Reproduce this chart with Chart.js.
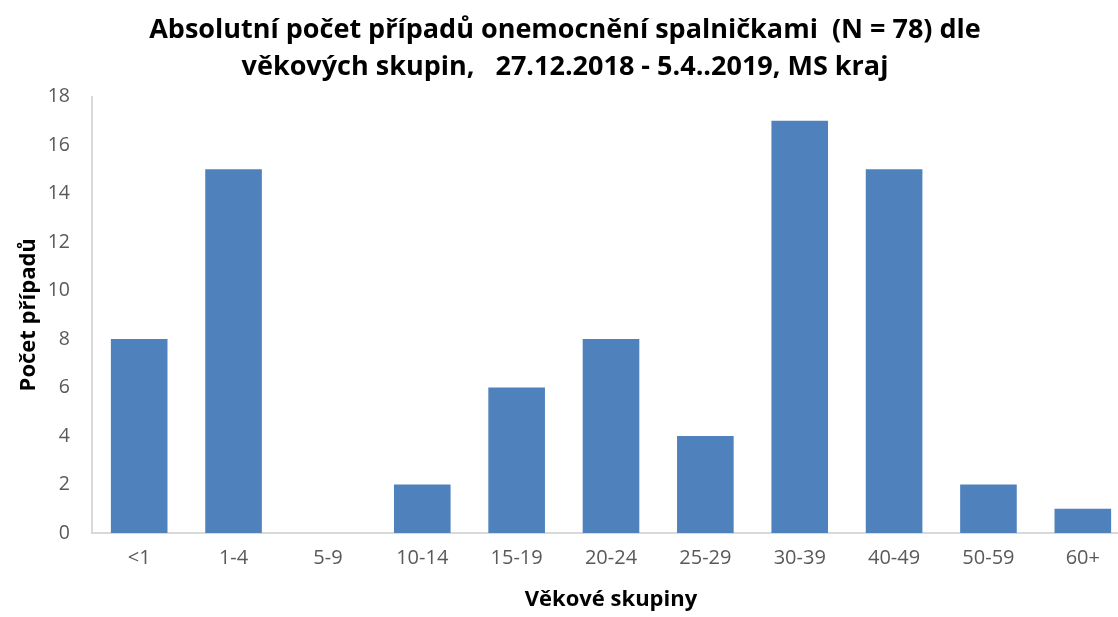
<!DOCTYPE html>
<html>
<head>
<meta charset="utf-8">
<script src="https://cdn.jsdelivr.net/npm/chart.js@4/dist/chart.umd.min.js"></script>
<style>
  html, body { margin: 0; padding: 0; background: #fff; overflow: hidden; }
  #wrap { width: 1130px; height: 617px; }
</style>
</head>
<body>
<div id="wrap"><canvas id="chart"></canvas></div>
<script>
const ageGroups = ['<1', '1-4', '5-9', '10-14', '15-19', '20-24', '25-29', '30-39', '40-49', '50-59', '60+'];
const caseCounts = [8, 15, 0, 2, 6, 8, 4, 17, 15, 2, 1];
const yTicks = [0, 2, 4, 6, 8, 10, 12, 14, 16, 18];
const titleLines = [
    'Absolutní počet případů onemocnění spalničkami  (N = 78) dle',
    'věkových skupin,   27.12.2018 - 5.4..2019, MS kraj'
];

const font = '"Open Sans", Lato, sans-serif';

const chart = new Chart(document.getElementById('chart'), {
    type: 'bar',
    data: {
        labels: ageGroups,
        datasets: [{
            label: 'Počet případů',
            data: caseCounts,
            backgroundColor: '#4f81bd',
            categoryPercentage: 0.6,
            barPercentage: 1.0
        }]
    },
    options: {
        responsive: true,
        maintainAspectRatio: false,
        animation: false,
        layout: { padding: { left: 0, right: 0, top: 0, bottom: 0 } },
        plugins: {
            legend: { display: false },
            tooltip: { enabled: false },
            title: {
                display: true,
                text: titleLines,
                color: '#000',
                font: { family: font, size: 27, weight: 'bold', lineHeight: 1.4 },
                padding: { top: 11, bottom: 10 }
            }
        },
        scales: {
            x: {
                grid: { display: false, drawTicks: false },
                border: { display: true, color: '#d9d9d9', width: 2 },
                ticks: { color: '#595959', font: { family: font, size: 20 }, padding: 13, maxRotation: 0 },
                title: {
                    display: true,
                    text: 'Věkové skupiny',
                    color: '#000',
                    font: { family: font, size: 22, weight: 'bold' },
                    padding: { top: 4 }
                },
                afterFit: s => { s.height = 84; }
            },
            y: {
                min: 0,
                max: 18,
                afterBuildTicks: s => { s.ticks = yTicks.map(v => ({ value: v })); },
                grid: { display: false, drawTicks: false },
                border: { display: true, color: '#d9d9d9', width: 2 },
                ticks: { color: '#595959', font: { family: font, size: 19.5 }, padding: 22 },
                title: {
                    display: true,
                    text: 'Počet případů',
                    color: '#000',
                    font: { family: font, size: 22, weight: 'bold' },
                    padding: { top: 16, bottom: 4 }
                },
                afterFit: s => { s.width = 92; }
            }
        }
    }
});
</script>
</body>
</html>
